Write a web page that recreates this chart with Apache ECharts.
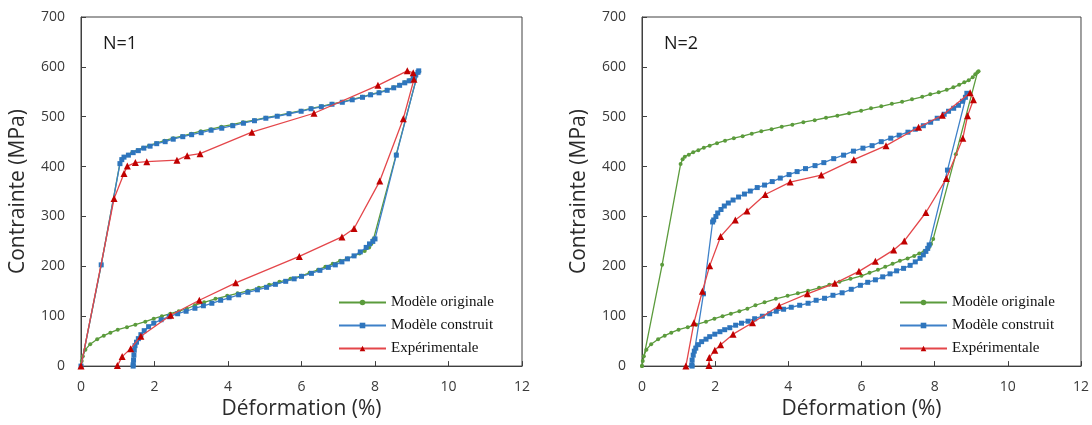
<!DOCTYPE html>
<html>
<head>
<meta charset="utf-8">
<title>Contrainte - Déformation</title>
<script src="https://cdn.jsdelivr.net/npm/echarts@6/dist/echarts.min.js"></script>
<style>
  html, body { margin: 0; padding: 0; background: #ffffff; }
  #chart { width: 1092px; height: 425px; }
</style>
</head>
<body>
<div id="chart"></div>
<script>
// Stress (MPa) vs strain (%) hysteresis loops, [strain, stress] pairs.

// Original model: the same response in both cycles
const originalModel = [
  [0, 0], [0.55, 203], [1.055, 405], [1.11, 415], [1.17, 420], [1.28, 424], [1.4, 429],
  [1.54, 433], [1.69, 438], [1.85, 442], [2.05, 447], [2.27, 452], [2.51, 457], [2.75, 461],
  [3.0, 466], [3.26, 471], [3.54, 475], [3.82, 480], [4.11, 484], [4.41, 489], [4.72, 493],
  [5.03, 498], [5.34, 502], [5.66, 507], [5.99, 512], [6.26, 517], [6.54, 521], [6.83, 526],
  [7.11, 530], [7.38, 535], [7.66, 540], [7.88, 545], [8.11, 549], [8.33, 554], [8.51, 559],
  [8.67, 564], [8.81, 569], [8.93, 573], [9.04, 579], [9.11, 585], [9.17, 589], [9.2, 591],
  [8.58, 425], [7.96, 255], [7.9, 245], [7.84, 238], [7.72, 231], [7.58, 226], [7.44, 221],
  [7.26, 216], [7.05, 211], [6.85, 205], [6.65, 199], [6.45, 193], [6.22, 187], [6.0, 181],
  [5.7, 175], [5.4, 169], [5.12, 163], [4.84, 157], [4.54, 151], [4.26, 146], [3.98, 141],
  [3.66, 135], [3.35, 128], [3.1, 122], [2.88, 115], [2.66, 110], [2.43, 105], [2.2, 100],
  [1.98, 95], [1.75, 89], [1.48, 83], [1.25, 78], [1.0, 73], [0.8, 67], [0.62, 61],
  [0.44, 54], [0.25, 44], [0.12, 33], [0.05, 20], [0.02, 10], [0, 0]
];

// Cycle N=1
const builtModelN1 = [
  [0, 0], [0.55, 203], [1.06, 406], [1.11, 414], [1.17, 419], [1.29, 423], [1.42, 428],
  [1.56, 432], [1.71, 437], [1.88, 441], [2.06, 446], [2.29, 450], [2.51, 455], [2.77, 460],
  [3.01, 464], [3.27, 468], [3.54, 473], [3.83, 477], [4.13, 482], [4.42, 487], [4.72, 492],
  [5.03, 497], [5.34, 501], [5.66, 506], [5.99, 511], [6.26, 516], [6.54, 520], [6.83, 525],
  [7.11, 529], [7.38, 534], [7.66, 539], [7.88, 544], [8.11, 548], [8.33, 553], [8.51, 558],
  [8.67, 563], [8.81, 568], [8.93, 572], [9.04, 578], [9.11, 584], [9.17, 589], [9.19, 592],
  [8.58, 423], [8.0, 255], [7.94, 250], [7.85, 245], [7.76, 238], [7.6, 229], [7.43, 221],
  [7.25, 215], [7.1, 209], [6.92, 203], [6.73, 198], [6.5, 192], [6.27, 186], [6.0, 180],
  [5.8, 175], [5.57, 170], [5.29, 164], [5.05, 158], [4.8, 153], [4.54, 148], [4.29, 143],
  [4.03, 137], [3.8, 132], [3.56, 126], [3.33, 121], [3.1, 116], [2.86, 110], [2.63, 105],
  [2.4, 99], [2.18, 93], [1.98, 86], [1.84, 79], [1.72, 71], [1.63, 63], [1.56, 55],
  [1.51, 48], [1.47, 41], [1.45, 32], [1.44, 22], [1.43, 12], [1.42, 3], [1.42, 0]
];

const experimentalN1 = [
  [0, 0], [0.9, 336], [1.17, 386], [1.26, 401], [1.48, 408], [1.79, 410], [2.61, 413],
  [2.89, 422], [3.24, 426], [4.65, 469], [6.34, 507], [8.08, 563], [8.88, 592], [9.04, 588],
  [9.06, 575], [8.77, 496], [8.13, 371], [7.43, 276], [7.1, 259], [5.94, 220], [4.21, 167],
  [3.22, 132], [2.44, 102], [1.63, 60], [1.35, 35], [1.12, 19], [0.99, 1]
];

// Cycle N=2
const builtModelN2 = [
  [1.37, 0], [1.68, 145], [1.93, 289], [1.96, 293], [2.02, 300], [2.07, 307], [2.16, 314],
  [2.25, 321], [2.36, 327], [2.49, 333], [2.64, 339], [2.8, 345], [2.96, 351], [3.15, 358],
  [3.35, 363], [3.56, 370], [3.78, 377], [4.02, 384], [4.24, 390], [4.47, 396], [4.73, 402],
  [4.97, 408], [5.24, 416], [5.51, 423], [5.78, 431], [6.04, 437], [6.29, 442], [6.54, 450],
  [6.8, 457], [7.03, 463], [7.27, 469], [7.47, 475], [7.69, 482], [7.89, 489], [8.07, 497],
  [8.26, 505], [8.38, 511], [8.52, 517], [8.65, 523], [8.76, 531], [8.84, 539], [8.88, 547],
  [8.35, 393], [7.85, 243], [7.81, 236], [7.76, 230], [7.69, 223], [7.6, 216], [7.47, 209],
  [7.33, 202], [7.15, 196], [6.96, 191], [6.78, 185], [6.58, 179], [6.38, 173], [6.17, 168],
  [5.97, 162], [5.72, 154], [5.47, 147], [5.22, 142], [4.99, 136], [4.76, 132], [4.54, 126],
  [4.31, 122], [4.08, 118], [3.87, 114], [3.67, 110], [3.49, 105], [3.29, 100], [3.08, 95],
  [2.9, 90], [2.72, 86], [2.56, 82], [2.4, 77], [2.26, 73], [2.13, 69], [1.99, 64],
  [1.85, 59], [1.75, 54], [1.63, 49], [1.54, 43], [1.47, 36], [1.43, 30], [1.4, 22],
  [1.37, 12], [1.36, 2]
];

const experimentalN2 = [
  [1.2, 0], [1.42, 87], [1.65, 150], [1.85, 201], [2.15, 260], [2.55, 293], [2.87, 311],
  [3.37, 344], [4.05, 369], [4.9, 383], [5.79, 414], [6.67, 442], [7.56, 479], [8.21, 503],
  [8.97, 548], [9.06, 534], [8.9, 502], [8.77, 457], [8.32, 376], [7.76, 308], [7.17, 251],
  [6.88, 233], [6.38, 210], [5.93, 190], [5.27, 166], [4.52, 145], [3.75, 121], [3.02, 87],
  [2.49, 64], [2.15, 43], [1.99, 32], [1.84, 17], [1.83, 1]
];

const seriesNames = ['Modèle originale', 'Modèle construit', 'Expérimentale'];
const panelTitles = ['N=1', 'N=2'];
const xTickStep = 2;
const yTickStep = 100;

const axisColor = '#404040';
const sansFont = 'Open Sans';

const styles = [
  { symbol: 'circle', symbolSize: 4, line: '#5b9b3c', item: '#5b9b3c' },
  { symbol: 'rect', symbolSize: 5, line: '#3d80c8', item: '#2e75bd' },
  { symbol: 'triangle', symbolSize: 7, line: '#e4464a', item: '#c00000' }
];

const grids = [
  { left: 81, top: 17, width: 441, height: 351 },
  { left: 642, top: 17, width: 440, height: 351 }
];

function xAxis(i) {
  return {
    type: 'value', gridIndex: i, min: 0, max: 12, interval: xTickStep,
    name: 'Déformation (%)', nameLocation: 'middle', nameGap: 31,
    nameTextStyle: { fontFamily: sansFont, fontSize: 21, color: '#2b2b2b' },
    axisLine: { show: true, lineStyle: { color: axisColor, width: 1 } },
    axisTick: { show: true, inside: true, length: 5, lineStyle: { color: axisColor } },
    axisLabel: { fontFamily: sansFont, fontSize: 14, color: '#3a3a3a', margin: 14 },
    splitLine: { show: false }
  };
}

function yAxis(i) {
  return {
    type: 'value', gridIndex: i, min: 0, max: 700, interval: yTickStep,
    name: 'Contrainte (MPa)', nameLocation: 'middle', nameGap: 52,
    nameTextStyle: { fontFamily: sansFont, fontSize: 21, color: '#2b2b2b' },
    axisLine: { show: true, lineStyle: { color: axisColor, width: 1 } },
    axisTick: { show: true, inside: true, length: 5, lineStyle: { color: axisColor } },
    axisLabel: { fontFamily: sansFont, fontSize: 14, color: '#3a3a3a', margin: 16 },
    splitLine: { show: false }
  };
}

function makeSeries(name, data, styleIdx, panel) {
  const s = styles[styleIdx];
  return {
    name: name, type: 'line', data: data,
    xAxisIndex: panel, yAxisIndex: panel,
    symbol: s.symbol, symbolSize: s.symbolSize,
    showSymbol: true, showAllSymbol: true,
    smooth: false, clip: false,
    lineStyle: { color: s.line, width: 1.3 },
    itemStyle: { color: s.item },
    emphasis: { disabled: true },
    z: 2 + styleIdx
  };
}

const panelData = [
  [originalModel, builtModelN1, experimentalN1],
  [originalModel, builtModelN2, experimentalN2]
];

const series = [];
panelData.forEach((sets, p) => {
  sets.forEach((d, k) => series.push(makeSeries(seriesNames[k], d, k, p)));
});

const legendLeft = [333, 894];

const option = {
  animation: false,
  backgroundColor: '#ffffff',
  title: panelTitles.map((t, i) => ({
    text: t, left: grids[i].left + 17, top: 30,
    textStyle: { fontFamily: sansFont, fontSize: 18, fontWeight: 'normal', color: '#1a1a1a' }
  })),
  grid: grids.map(g => Object.assign({ show: true, borderColor: axisColor, borderWidth: 1, containLabel: false }, g)),
  xAxis: [xAxis(0), xAxis(1)],
  yAxis: [yAxis(0), yAxis(1)],
  legend: legendLeft.map(l => ({
    orient: 'vertical', left: l, top: 290,
    itemWidth: 47, itemHeight: 7, itemGap: 8,
    selectedMode: false,
    data: seriesNames,
    textStyle: { fontFamily: 'Liberation Serif', fontSize: 15, color: '#111111', padding: [0, 0, 0, 0] }
  })),
  series: series
};

const chart = echarts.init(document.getElementById('chart'), null, { renderer: 'canvas' });
chart.setOption(option);
</script>
</body>
</html>
